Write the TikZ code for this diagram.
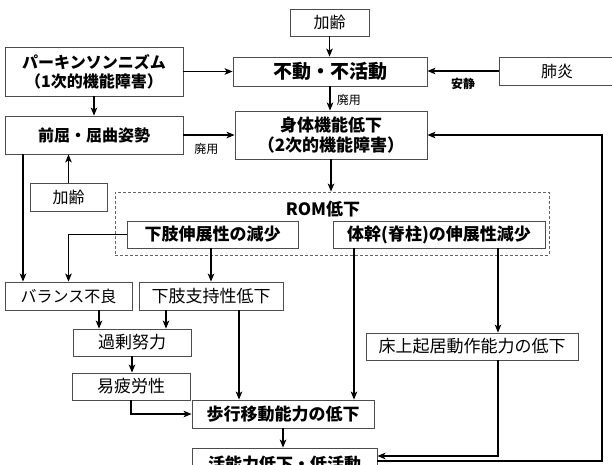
\documentclass[tikz,border=0pt]{standalone}
\usepackage{fontspec}
\setmainfont{Noto Sans CJK JP}
\usetikzlibrary{arrows.meta,calc}
\begin{document}
\begin{tikzpicture}[x=1pt,y=-1pt,
  box/.style={draw=black!70,line width=0.8pt,fill=white,inner sep=0pt,align=center,
    font=\fontsize{16}{19}\selectfont},
  bbox/.style={box,font=\fontsize{16}{19}\selectfont\bfseries},
  conn/.style={line width=1.8pt,-{Stealth[length=8pt,width=6.5pt,inset=2pt]}},
  lbl/.style={inner sep=0pt,font=\fontsize{12}{14}\selectfont},
]
\useasboundingbox (0,0) rectangle (612,464);
% dashed ROM region
\node[draw=black!60,dashed,dash pattern=on 3pt off 2pt,line width=0.8pt,minimum width=434pt,minimum height=63pt,inner sep=0pt] (rom) at (332,223.5) {};
\node[inner sep=0pt,font=\fontsize{17}{20}\selectfont\bfseries] (romlbl) at (323,209) {ROM低下};
% boxes
\node[box,minimum width=79pt,minimum height=27pt] (kareiTop) at (329.5,22.5) {加齢};
\node[bbox,minimum width=178pt,minimum height=49pt] (park) at (94,71.5) {パーキンソンニズム\\（1次的機能障害）};
\node[bbox,minimum width=194pt,minimum height=29pt,font=\fontsize{19}{22}\selectfont\bfseries] (fudo) at (330,71.5) {不動・不活動};
\node[box,minimum width=116pt,minimum height=28pt] (haien) at (557,71) {肺炎};
\node[bbox,minimum width=192pt,minimum height=48pt,font=\fontsize{17}{20}\selectfont\bfseries] (shintai) at (331,135) {身体機能低下\\（2次的機能障害）};
\node[bbox,minimum width=178pt,minimum height=38pt] (zenkutsu) at (94,135) {前屈・屈曲姿勢};
\node[box,minimum width=77pt,minimum height=28pt] (karei2) at (68.5,197) {加齢};
\node[bbox,minimum width=171pt,minimum height=27pt,font=\fontsize{17}{20}\selectfont\bfseries] (kashi) at (212.5,234.5) {下肢伸展性の減少};
\node[bbox,minimum width=212pt,minimum height=27pt,font=\fontsize{17}{20}\selectfont\bfseries] (taikan) at (439,234.5) {体幹(脊柱)の伸展性減少};
\node[box,minimum width=127pt,minimum height=28pt] (balance) at (68.5,296) {バランス不良};
\node[box,minimum width=144pt,minimum height=28pt,font=\fontsize{17}{20}\selectfont] (shiji) at (211,296) {下肢支持性低下};
\node[box,minimum width=118pt,minimum height=27pt,font=\fontsize{17}{20}\selectfont] (kajo) at (132,342.5) {過剰努力};
\node[box,minimum width=118pt,minimum height=27pt,font=\fontsize{17}{20}\selectfont] (ihiro) at (131,386.5) {易疲労性};
\node[bbox,minimum width=182pt,minimum height=28pt,font=\fontsize{17}{20}\selectfont\bfseries] (hoko) at (283,414) {歩行移動能力の低下};
\node[box,minimum width=212pt,minimum height=27pt,font=\fontsize{17}{20}\selectfont] (shojo) at (472,346.5) {床上起居動作能力の低下};
\node[bbox,minimum width=185pt,minimum height=32pt,font=\fontsize{17}{20}\selectfont\bfseries] (katsudo) at (284.5,464) {活能力低下・低活動};
% lanes
\coordinate (xL) at (23,0);
\coordinate (xB) at (99,0);
\coordinate (xS) at (166,0);
\coordinate (xW) at (239,0);
\coordinate (xT) at (354,0);
\coordinate (xF) at (498,0);
\coordinate (xR) at (602,0);
\coordinate (yA) at (0,456);
\coordinate (yK) at (0,461);
% connectors
\draw[conn] (kareiTop.south) -- (kareiTop.south |- fudo.north);
\draw[conn] (park.east) -- (park.east -| fudo.west);
\draw[conn] (haien.west) -- (haien.west -| fudo.east) node[lbl,font=\fontsize{12}{14}\selectfont\bfseries,pos=0.5,below=6pt] (ansei) {安静};
\draw[conn] (fudo.south) -- (fudo.south |- shintai.north) node[lbl,pos=0.55,right=6pt] (haiyo1) {廃用};
\draw[conn] (park.south) -- (zenkutsu.north);
\draw[conn] (zenkutsu.east) -- (zenkutsu.east -| shintai.west) node[lbl,pos=0.45,below=8pt] (haiyo2) {廃用};
\draw[conn] (karei2.north) -- (karei2.north |- zenkutsu.south);
\draw[conn] (zenkutsu.south -| xL) -- (balance.north -| xL);
\draw[conn] (kashi.west) -| (balance.north);
\draw[conn] (shiji.north |- kashi.south) -- (shiji.north);
\draw[conn] (shintai.south) -- (shintai.south |- rom.north);
\draw[conn] (balance.south -| xB) -- (kajo.north -| xB);
\draw[conn] (shiji.south -| xS) -- (kajo.north -| xS);
\draw[conn] (kajo.south) -- (kajo.south |- ihiro.north);
\draw[conn] (ihiro.south) |- (hoko.west);
\draw[conn] (shiji.south -| xW) -- (hoko.north -| xW);
\draw[conn] (taikan.south -| xT) -- (hoko.north -| xT);
\draw[conn] (taikan.south -| xF) -- (shojo.north -| xF);
\draw[conn] (shojo.south -| xF) |- (katsudo.east |- yA);
\draw[conn] (hoko.south) -- (hoko.south |- katsudo.north);
\draw[conn] (katsudo.east |- yK) -| (xR |- shintai.east) -- (shintai.east);
\end{tikzpicture}
\end{document}
